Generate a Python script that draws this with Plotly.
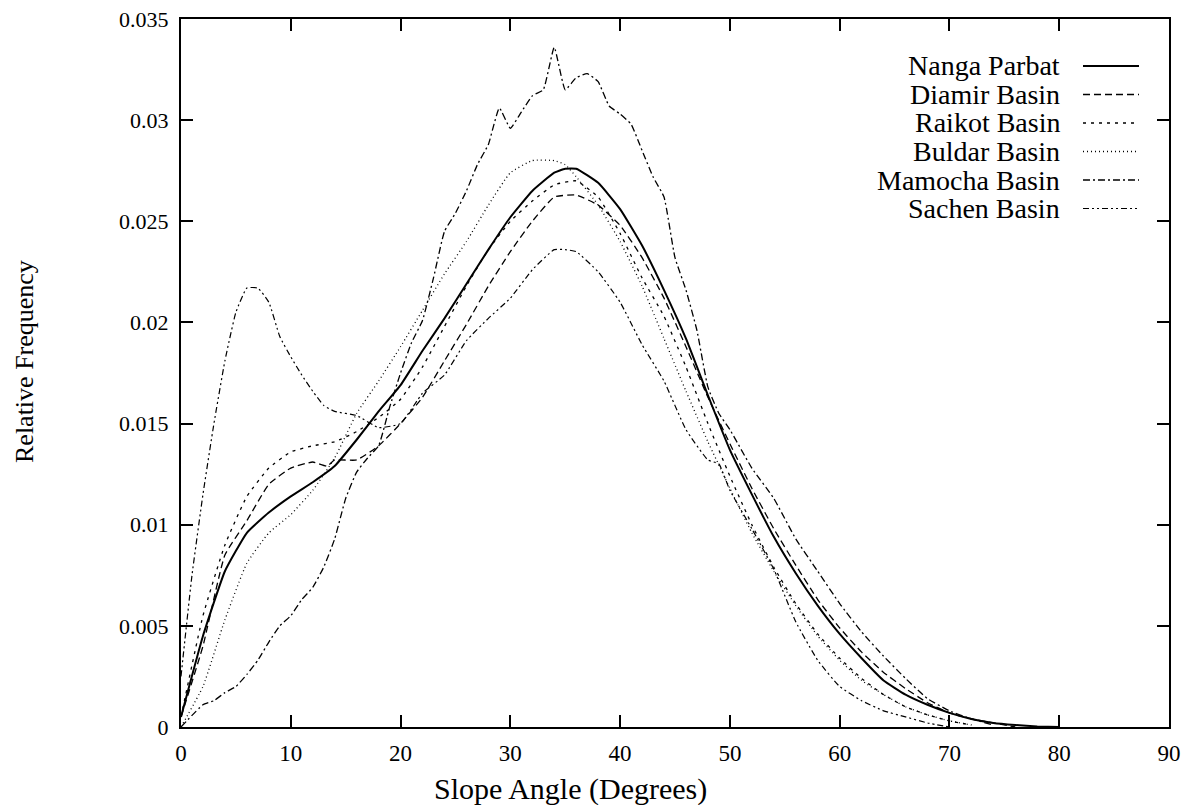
import plotly.graph_objects as go

# slope angle distributions
nanga_x = [0, 2, 4, 6, 8, 10, 12, 14, 16, 18, 20, 22, 24, 26, 28, 30, 32, 34, 35, 36, 38, 40, 42, 44, 46, 48, 50,
           52, 54, 56, 58, 60, 62, 64, 66, 68, 70, 72, 74, 76, 78, 80]
nanga_y = [0.0005, 0.0045, 0.0077, 0.0096, 0.0106, 0.0114, 0.0121, 0.0129, 0.0142, 0.0156, 0.0169, 0.0186, 0.0202,
           0.0219, 0.0236, 0.0252, 0.0265, 0.0274, 0.0276, 0.0276, 0.0269, 0.0256, 0.0238, 0.0216, 0.0192, 0.0164,
           0.0137, 0.0115, 0.0094, 0.0076, 0.0060, 0.0046, 0.0034, 0.0023, 0.0016, 0.0011, 0.0007, 0.0004, 0.0002,
           0.0001, 0.00003, 0]

diamir_x = [0, 2, 4, 6, 8, 10, 12, 13.3, 14, 16, 18, 20, 22, 24, 26, 28, 30, 32, 34, 36, 38, 40, 42, 44, 46, 48,
            50, 52, 54, 56, 58, 60, 62, 64, 66, 68, 70, 72, 74, 76]
diamir_y = [0.0005, 0.004, 0.0085, 0.0102, 0.012, 0.0128, 0.0131, 0.0129, 0.0132, 0.0132, 0.0139, 0.015, 0.0163,
            0.0181, 0.0199, 0.0218, 0.0235, 0.025, 0.0262, 0.0263, 0.0258, 0.0248, 0.0232, 0.0212, 0.0188, 0.0163,
            0.014, 0.0118, 0.0098, 0.008, 0.0063, 0.0049, 0.0037, 0.0027, 0.0019, 0.0012, 0.0007, 0.0004, 0.0002, 0]

raikot_x = [0, 2, 4, 6, 8, 10, 12, 14, 16, 18, 20, 22, 24, 26, 28, 30, 32, 34, 36, 38, 40, 42, 44, 46, 48, 50, 52,
            54, 56, 58, 60, 62, 64, 66, 68, 70, 72]
raikot_y = [0.0005, 0.0055, 0.009, 0.0114, 0.0128, 0.0136, 0.0139, 0.0141, 0.0146, 0.0153, 0.0162, 0.0178, 0.0198,
            0.0218, 0.0236, 0.025, 0.026, 0.0268, 0.027, 0.0262, 0.0244, 0.0222, 0.0203, 0.0178, 0.015, 0.0124, 0.01,
            0.0079, 0.0061, 0.0046, 0.0034, 0.0024, 0.0016, 0.001, 0.0006, 0.0003, 0.0001]

buldar_x = [0, 2, 4, 6, 8, 10, 12, 14, 16, 18, 20, 22, 24, 26, 28, 30, 32, 34, 35, 36, 38, 40, 42, 44, 46, 48, 50,
            52, 54, 56, 58, 60, 62, 64, 66, 68, 70, 72]
buldar_y = [0, 0.002, 0.0053, 0.0081, 0.0096, 0.0105, 0.0117, 0.0133, 0.0155, 0.0171, 0.0188, 0.0206, 0.0224,
            0.024, 0.0258, 0.0274, 0.028, 0.028, 0.0278, 0.0272, 0.0258, 0.024, 0.0218, 0.0192, 0.0166, 0.0141,
            0.0118, 0.0096, 0.0077, 0.006, 0.0045, 0.0033, 0.0023, 0.0016, 0.001, 0.0006, 0.0003, 0.0001]

mamocha_x = [0, 2, 3, 4, 5, 6, 7, 8, 9, 10, 11, 12, 13, 14, 15, 16, 17, 18, 19, 20, 21, 22, 23, 24, 25, 26, 27, 28,
             29, 30, 31, 32, 33, 34, 35, 36, 37, 38, 39, 40, 41, 42, 43, 44, 45, 46, 47, 48, 49, 50, 52, 54, 56, 58,
             60, 62, 64, 66, 68, 70, 72, 74]
mamocha_y = [0, 0.0011, 0.0013, 0.0017, 0.002, 0.0026, 0.0033, 0.0042, 0.005, 0.0055, 0.0063, 0.0069, 0.0079,
             0.0093, 0.0113, 0.0126, 0.0133, 0.0139, 0.0158, 0.0175, 0.019, 0.0201, 0.0222, 0.0245, 0.0254, 0.0265,
             0.0278, 0.0288, 0.0306, 0.0296, 0.0304, 0.0312, 0.0315, 0.0336, 0.0315, 0.0321, 0.0323, 0.0319, 0.0307,
             0.0303, 0.0298, 0.0285, 0.0272, 0.0262, 0.0232, 0.0216, 0.0196, 0.0168, 0.0155, 0.0147, 0.0128, 0.0113,
             0.0093, 0.0077, 0.0061, 0.0047, 0.0035, 0.0024, 0.0014, 0.0008, 0.0004, 0.0001]

sachen_x = [0, 1, 2, 3, 4, 5, 6, 7, 8, 9, 10, 11, 12, 13, 14, 16, 18, 20, 22, 24, 26, 28, 30, 32, 34, 35, 36, 38,
            40, 42, 44, 46, 48, 49, 50, 52, 54, 56, 58, 60, 62, 64, 66, 68, 70]
sachen_y = [0.0025, 0.0075, 0.0115, 0.015, 0.0181, 0.0205, 0.0217, 0.0217, 0.021, 0.0193, 0.0183, 0.0174, 0.0166,
            0.0159, 0.0156, 0.0154, 0.0148, 0.015, 0.0165, 0.0174, 0.0191, 0.0202, 0.0212, 0.0226, 0.0236, 0.0236,
            0.0235, 0.0225, 0.021, 0.0189, 0.0171, 0.0147, 0.0132, 0.013, 0.0117, 0.0098, 0.0078, 0.0052, 0.0033,
            0.002, 0.0013, 0.0008, 0.0005, 0.0002, 0]

names = ["Nanga Parbat", "Diamir Basin", "Raikot Basin", "Buldar Basin", "Mamocha Basin", "Sachen Basin"]
xs = [nanga_x, diamir_x, raikot_x, buldar_x, mamocha_x, sachen_x]
ys = [nanga_y, diamir_y, raikot_y, buldar_y, mamocha_y, sachen_y]
dashes = ["solid", "7px,4px", "3px,5px", "1px,3px", "7px,3px,2px,3px", "6px,3px,2px,3px,2px,3px"]
widths = [2, 1.3, 1.3, 1.3, 1.3, 1.2]

y_ticks = [0, 0.005, 0.01, 0.015, 0.02, 0.025, 0.03, 0.035]
y_labels = ["0", "0.005", "0.01", "0.015", "0.02", "0.025", "0.03", "0.035"]

font = "Liberation Serif, Times New Roman, serif"

fig = go.Figure()
for name, x, y, d, w in zip(names, xs, ys, dashes, widths):
    fig.add_trace(go.Scatter(x=x, y=y, mode="lines", name=name,
                             line=dict(color="black", width=w, dash=d, shape="spline", smoothing=0.4),
                             showlegend=False))

# plot box in the page is 181..1169 x 19..727 px; page body has an 8px margin
pw, ph = 988, 708

# hand-made legend: text on the left, line sample on the right (gnuplot style)
for i, (name, d, w) in enumerate(zip(names, dashes, widths)):
    yp = 1 - (66 - 19 + 28.5 * i) / ph
    fig.add_annotation(x=(1062 - 181) / pw, y=yp, xref="paper", yref="paper", text=name, showarrow=False,
                       xanchor="right", yanchor="middle", font=dict(family=font, size=28, color="black"))
    fig.add_shape(type="line", xref="paper", yref="paper", x0=(1083 - 181) / pw, x1=(1139 - 181) / pw,
                  y0=yp, y1=yp, line=dict(color="black", width=w, dash=d))

# axis titles
fig.add_annotation(x=(570 - 181) / pw, y=(727 - 789) / ph, xref="paper", yref="paper",
                   text="Slope Angle (Degrees)", showarrow=False, xanchor="center", yanchor="middle",
                   font=dict(family=font, size=30, color="black"))
fig.add_annotation(x=(24 - 181) / pw, y=(727 - 362) / ph, xref="paper", yref="paper", text="Relative Frequency",
                   showarrow=False, xanchor="center", yanchor="middle", textangle=-90,
                   font=dict(family=font, size=26, color="black"))

fig.update_layout(
    width=1185, height=797,
    margin=dict(l=173, r=24, t=11, b=78),
    plot_bgcolor="white", paper_bgcolor="white",
    font=dict(family=font, size=23, color="black"),
)
fig.update_xaxes(range=[0, 90], dtick=10, tick0=0, showgrid=False, zeroline=False, automargin=False,
                 showline=True, linecolor="black", linewidth=2, mirror="allticks",
                 ticks="inside", ticklen=12, tickwidth=2, tickcolor="black", ticklabelstandoff=4,
                 ticklabeloverflow="allow")
fig.update_yaxes(range=[0, 0.035], tickvals=y_ticks, ticktext=y_labels, showgrid=False, zeroline=False,
                 automargin=False, showline=True, linecolor="black", linewidth=2, mirror="allticks",
                 ticks="inside", ticklen=12, tickwidth=2, tickcolor="black", ticklabelstandoff=6,
                 ticklabeloverflow="allow", tickfont=dict(size=22))

fig.write_html("out.html")
